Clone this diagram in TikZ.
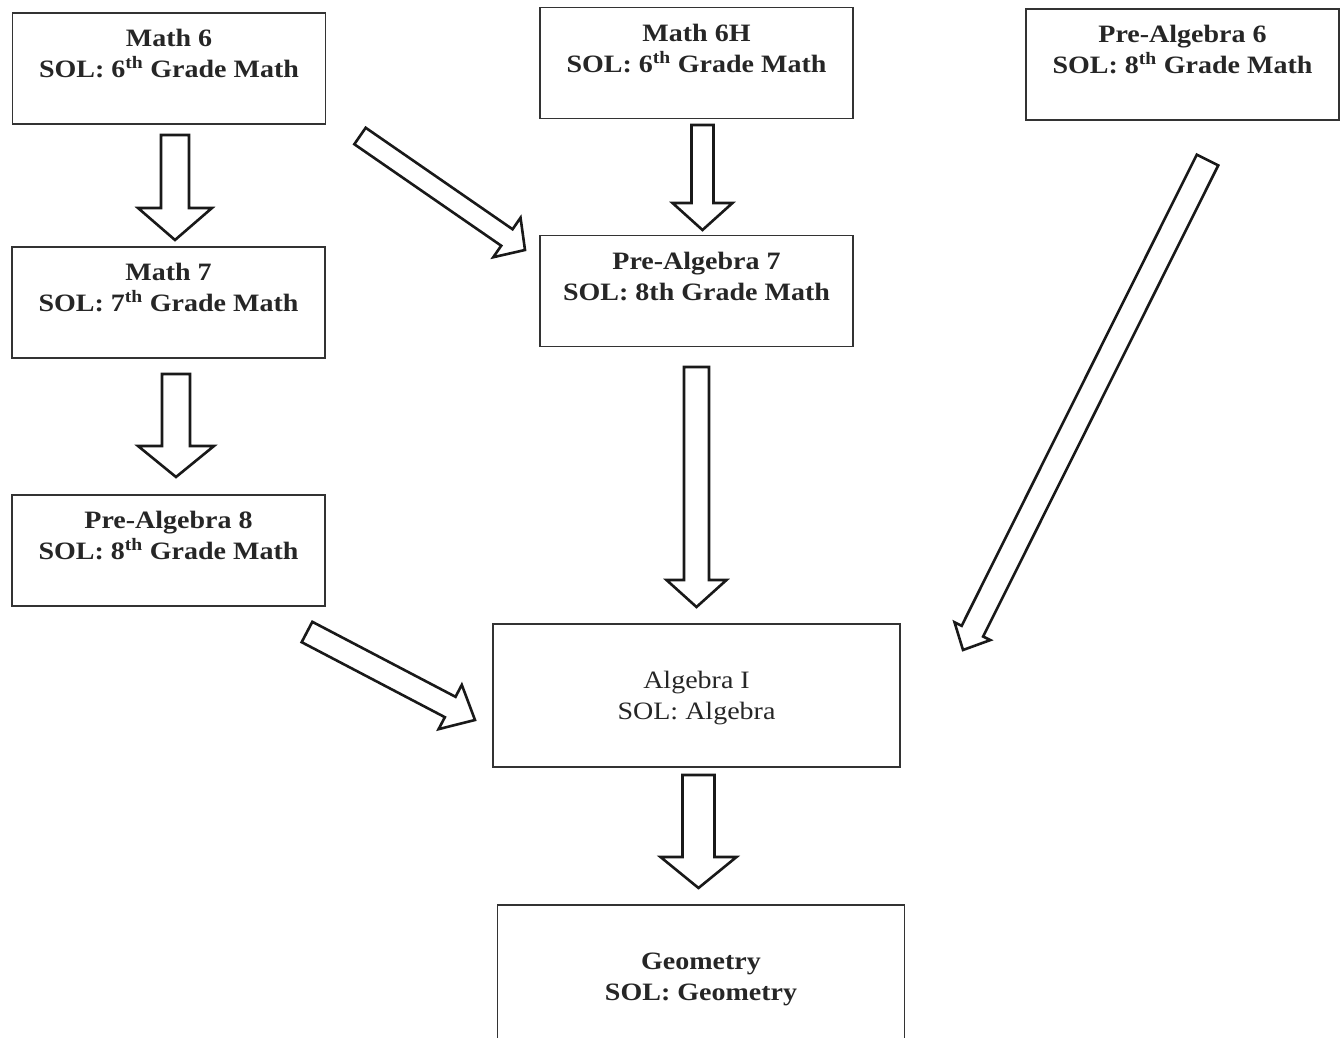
\documentclass[tikz,border=0pt]{standalone}
\usepackage{fontspec}
\setmainfont{Liberation Serif}[FakeStretch=1.12]
\usetikzlibrary{positioning,calc}

\tikzset{
  course/.style={draw=black!80, line width=1.5pt, minimum width=313pt, minimum height=111pt, inner sep=0pt},
  bigcourse/.style={course, minimum width=407pt, minimum height=143pt, align=center, text=black!85},
  coursetext/.style={align=center, inner sep=0pt, text=black!85, font=\fontsize{25}{31}\selectfont\bfseries},
  blockarrow/.style={draw=black!90, line width=2.6pt, fill=white, line join=miter}
}

% hollow block arrow: from, to, shaft half width, head half width, head length
\newcommand\hollowarrow[5]{%
  \draw[blockarrow] let \p1=(#1), \p2=(#2),
      \n1={atan2(\y2-\y1,\x2-\x1)}, \n2={veclen(\x2-\x1,\y2-\y1)-#5} in
    ($(\p1)+(\n1+90:#3)$) -- ($(\p1)+(\n1:\n2)+(\n1+90:#3)$)
    -- ($(\p1)+(\n1:\n2)+(\n1+90:#4)$) -- (\p2)
    -- ($(\p1)+(\n1:\n2)+(\n1-90:#4)$) -- ($(\p1)+(\n1:\n2)+(\n1-90:#3)$)
    -- ($(\p1)+(\n1-90:#3)$) -- cycle;
}

\begin{document}
\begin{tikzpicture}[x=1pt,y=1pt]
    \useasboundingbox (0,0) rectangle (1343,1038);
    \clip (0,0) rectangle (1343,1038);

    % Course boxes
    \node[course] (m6) at (169,969.5) {};
    \node[course] (m6h) at (696.5,975) {};
    \node[course] (pa6) at (1182.5,973.5) {};
    \node[course] (m7) at (168.5,735.5) {};
    \node[course] (pa7) at (696.5,747) {};
    \node[course] (pa8) at (168.5,487.5) {};
    \node[course, minimum width=407pt, minimum height=143pt] (alg) at (696.5,342.5) {};
    \node[course, minimum width=407pt, minimum height=143pt] (geo) at (701,61.5) {};

    % Labels
    \node[coursetext, below=17pt of m6.north] (m6t) {Math 6\\SOL: 6\textsuperscript{th} Grade Math};
    \node[coursetext, below=17pt of m6h.north] (m6ht) {Math 6H\\SOL: 6\textsuperscript{th} Grade Math};
    \node[coursetext, below=17pt of pa6.north] (pa6t) {Pre-Algebra 6\\SOL: 8\textsuperscript{th} Grade Math};
    \node[coursetext, below=17pt of m7.north] (m7t) {Math 7\\SOL: 7\textsuperscript{th} Grade Math};
    \node[coursetext, below=17pt of pa7.north] (pa7t) {Pre-Algebra 7\\SOL: 8th Grade Math};
    \node[coursetext, below=17pt of pa8.north] (pa8t) {Pre-Algebra 8\\SOL: 8\textsuperscript{th} Grade Math};
    \node[coursetext, font=\fontsize{25}{31}\selectfont, below=3pt of alg.center, anchor=center] (algt) {Algebra I\\SOL: Algebra};
    \node[coursetext, below=3pt of geo.center, anchor=center] (geot) {Geometry\\SOL: Geometry};

    % Arrow ends
    \coordinate (m6-a) at (175,903);     \coordinate (m7-a) at (175,798);
    \coordinate (m7-b) at (176,664);     \coordinate (pa8-b) at (176,561);
    \coordinate (m6h-a) at (702.5,913);  \coordinate (pa7-a) at (702.5,808);
    \coordinate (m6-b) at (360,902);     \coordinate (pa7-b) at (525,788);
    \coordinate (pa7-c) at (696.5,671);  \coordinate (alg-a) at (696.5,431);
    \coordinate (pa6-a) at (1207.5,878); \coordinate (alg-b) at (963,388);
    \coordinate (pa8-a) at (307,406);    \coordinate (alg-c) at (475,318);
    \coordinate (alg-d) at (698.5,263);  \coordinate (geo-a) at (698.5,150);

    % Arrows
    \hollowarrow{m6-a}{m7-a}{14}{37}{32}
    \hollowarrow{m7-b}{pa8-b}{14}{38}{31}
    \hollowarrow{m6h-a}{pa7-a}{11}{30}{27}
    \hollowarrow{m6-b}{pa7-b}{10}{24}{22}
    \hollowarrow{pa7-c}{alg-a}{12.5}{30}{27}
    \hollowarrow{pa6-a}{alg-b}{12}{20}{21}
    \hollowarrow{pa8-a}{alg-c}{11.5}{25}{28}
    \hollowarrow{alg-d}{geo-a}{16}{38}{31}
\end{tikzpicture}
\end{document}
